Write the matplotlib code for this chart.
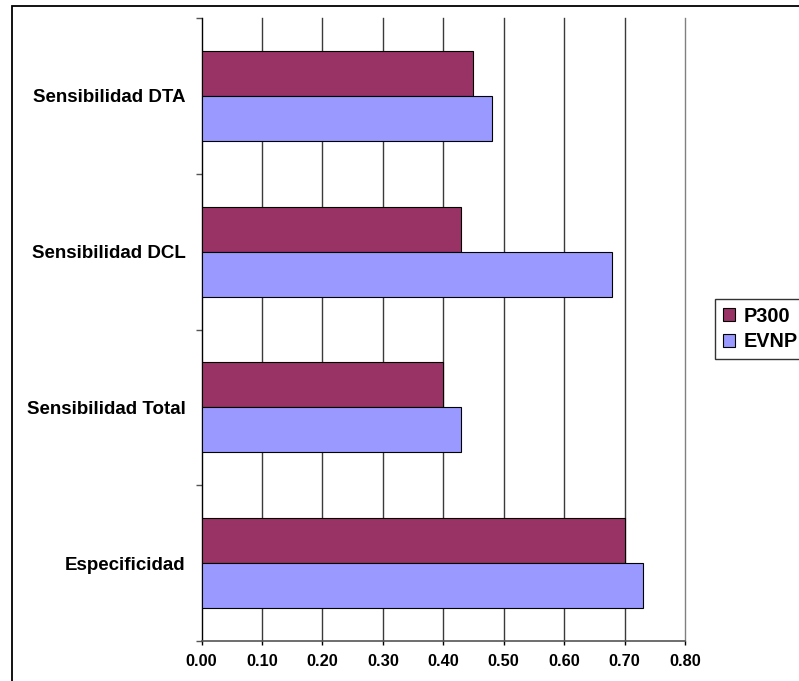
import numpy as np
import matplotlib.pyplot as plt
from matplotlib.patches import Rectangle, Patch

plt.rcParams['font.family'] = ['Liberation Sans', 'DejaVu Sans']
plt.rcParams['font.weight'] = 'bold'

## Data (categories listed bottom to top)
categorias = ["Especificidad", "Sensibilidad Total", "Sensibilidad DCL", "Sensibilidad DTA"]
p300 = [0.70, 0.40, 0.43, 0.45]
evnp = [0.73, 0.43, 0.68, 0.48]
x_ticks = [0.0, 0.1, 0.2, 0.3, 0.4, 0.5, 0.6, 0.7, 0.8]

W, H = 799, 681
fig = plt.figure(figsize=(W/100, H/100), dpi=100)

# outer chart border (runs off the right and bottom edges)
fig.patches.append(Rectangle((11.5/W, -0.05), 1.1, 1 - 6.5/H + 0.05, transform=fig.transFigure,
                             fill=False, edgecolor='black', linewidth=1.3, zorder=0))

ax = fig.add_axes([201.5/W, 1 - 641/H, (685 - 201.5)/W, (641 - 18)/H])

y = np.arange(len(categorias))
h = 0.289
ax.barh(y + h/2, p300, height=h, color='#993366', edgecolor='black', linewidth=0.8, label='P300', zorder=3)
ax.barh(y - h/2, evnp, height=h, color='#9999FF', edgecolor='black', linewidth=0.8, label='EVNP', zorder=3)

ax.set_xlim(0, 0.8)
ax.set_ylim(-0.5, len(categorias) - 0.5)

# vertical gridlines
for xv in x_ticks[1:]:
    ax.axvline(xv, color='#3a3a3a' if xv < 0.75 else '#808080', linewidth=1.0, zorder=1, clip_on=False)

ax.set_xticks(x_ticks)
ax.set_xticklabels([f"{v:.2f}" for v in x_ticks], fontsize=11.8, fontweight='bold')
ax.tick_params(axis='x', direction='out', length=3, width=1, color='black', pad=6)

# category ticks at the band boundaries, labels at the band centres
ax.set_yticks(np.arange(-0.5, len(categorias), 1.0))
ax.set_yticklabels([])
ax.set_yticks(y, minor=True)
ax.set_yticklabels(categorias, minor=True, fontsize=13.5, fontweight='bold')
ax.tick_params(axis='y', which='major', direction='out', length=4.3, width=1, color='#555555')
ax.tick_params(axis='y', which='minor', length=0, pad=11.5)

for s in ['top', 'right']:
    ax.spines[s].set_visible(False)
ax.spines['left'].set_color('black')
ax.spines['left'].set_linewidth(1.0)
ax.spines['bottom'].set_color('#555555')
ax.spines['bottom'].set_linewidth(1.2)

handles = [Patch(facecolor='#993366', edgecolor='black', linewidth=0.8, label='P300'),
           Patch(facecolor='#9999FF', edgecolor='black', linewidth=0.8, label='EVNP')]
leg = fig.legend(handles=handles, loc='upper left', bbox_to_anchor=(715/W, 1 - 299/H),
                 fontsize=14.3, frameon=True, fancybox=False, edgecolor='black',
                 handlelength=0.62, handleheight=0.62, handletextpad=0.42,
                 borderpad=0.38, labelspacing=0.35, borderaxespad=0)
leg.get_frame().set_linewidth(1.0)
for t in leg.get_texts():
    t.set_fontweight('bold')

fig.savefig('out.png', dpi=100)
